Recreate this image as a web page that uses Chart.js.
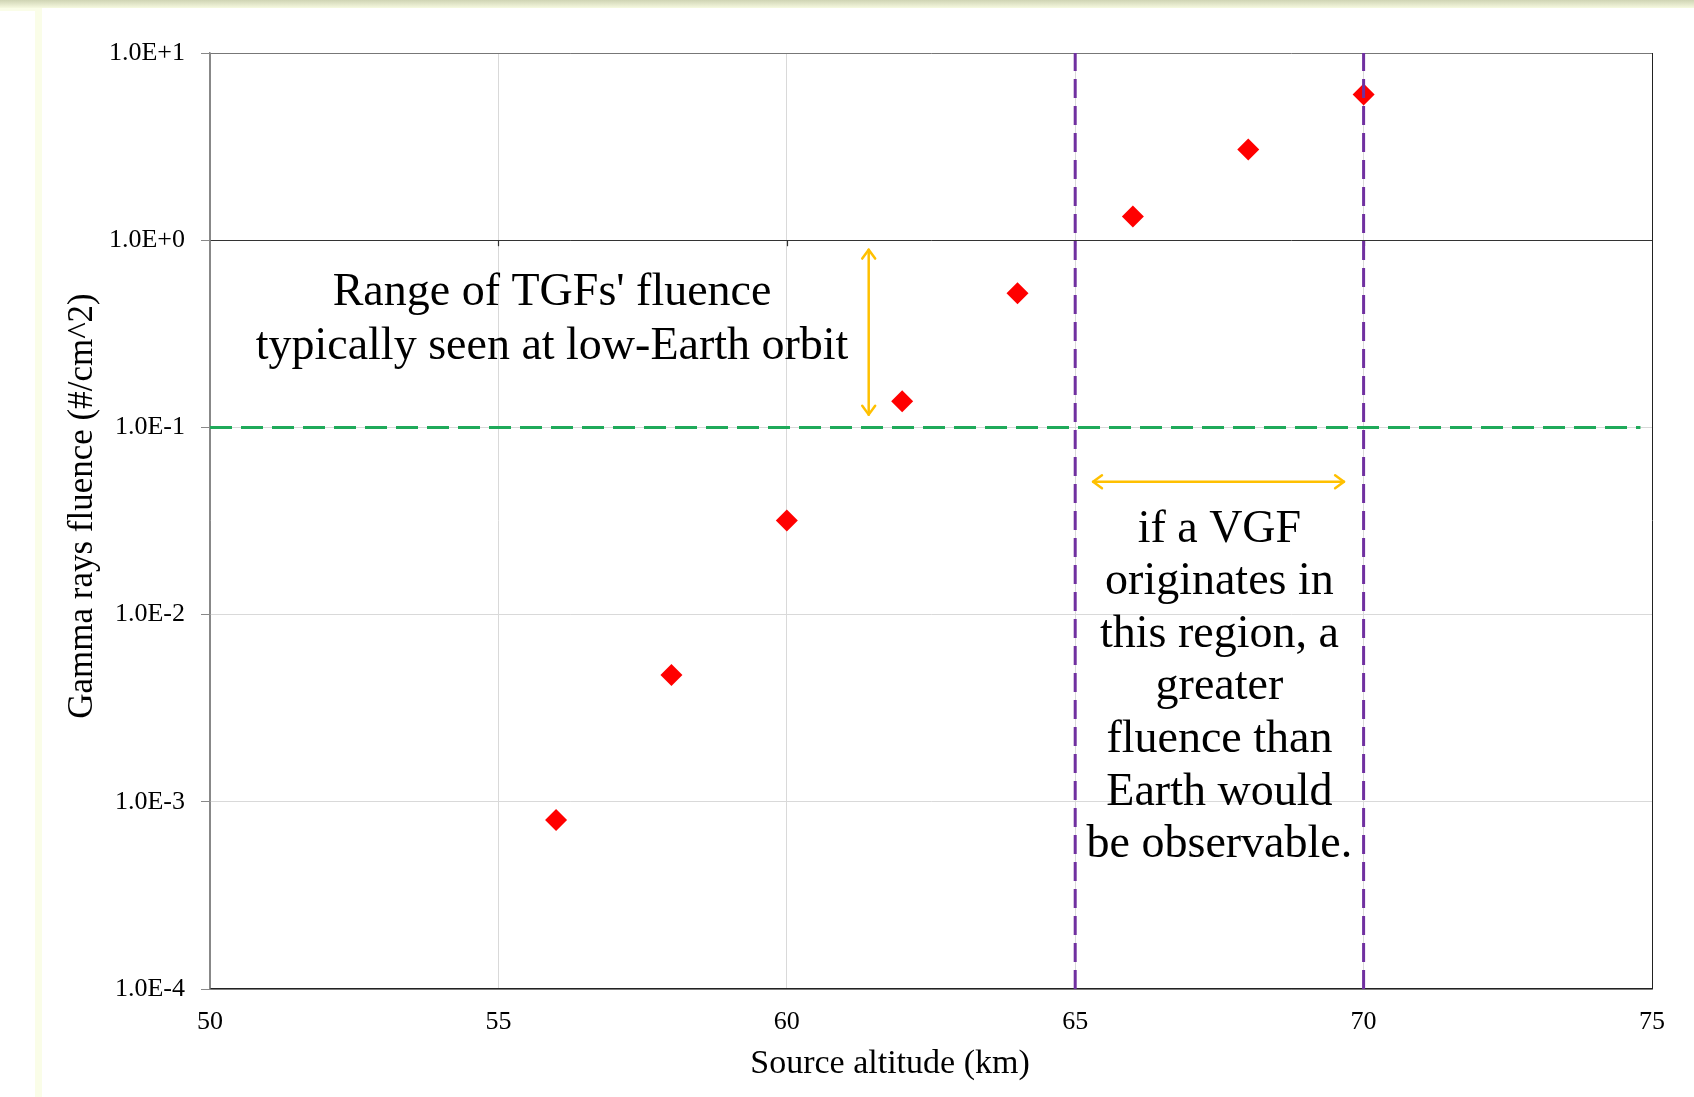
<!DOCTYPE html>
<html>
<head>
<meta charset="utf-8">
<title>Gamma rays fluence vs source altitude</title>
<script src="https://cdn.jsdelivr.net/npm/chart.js@4.4.1/dist/chart.umd.min.js"></script>
<style>
  html, body { margin: 0; padding: 0; background: #fff; }
  #wrap { width: 1694px; height: 1097px; }
</style>
</head>
<body>
<div id="wrap"><canvas id="fluenceChart" width="1694" height="1097"></canvas></div>
<script>
// --- values ---
const altitudes = [56, 58, 60, 62, 64, 66, 68, 70];
const fluence = [8.0e-4, 4.75e-3, 0.0318, 0.138, 0.52, 1.34, 3.05, 6.0];

const xTicks = [50, 55, 60, 65, 70, 75];
const yTicks = [1e-4, 1e-3, 1e-2, 1e-1, 1, 10];
const yTickLabels = ["1.0E-4", "1.0E-3", "1.0E-2", "1.0E-1", "1.0E+0", "1.0E+1"];

// typical LEO fluence level (green dashed)
const thresholdX = [50, 74.8];
const thresholdY = [0.1, 0.1];

// VGF region bounds (purple dashed)
const regionX = [65, 70];
const regionY = [1e-4, 10];

const xTitle = "Source altitude (km)";
const yTitle = "Gamma rays fluence (#/cm^2)";
const leftNote = ["Range of TGFs' fluence", "typically seen at low-Earth orbit"];
const rightNote = ["if a VGF", "originates in", "this region, a", "greater", "fluence than", "Earth would", "be observable."];

const SERIF = "'Liberation Serif', 'Times New Roman', serif";
const ORANGE = "#ffc000";

// --- page backdrop (slide border bits) ---
const pageBackdrop = {
  id: "pageBackdrop",
  beforeDraw(chart) {
    const { ctx, width, height } = chart;
    ctx.save();
    ctx.fillStyle = "#fff";
    ctx.fillRect(0, 0, width, height);
    const g = ctx.createLinearGradient(0, 0, 0, 8);
    g.addColorStop(0, "#cfd4b4");
    g.addColorStop(1, "#f6f9e0");
    ctx.fillStyle = g;
    ctx.fillRect(0, 0, width, 8);
    ctx.fillStyle = "#fafde8";
    ctx.fillRect(0, 8, 42, 3);
    ctx.fillRect(35, 8, 7, height - 8);
    ctx.restore();
  },
};

function drawArrow(ctx, x1, y1, x2, y2) {
  const head = 11, spread = Math.PI / 5;
  ctx.beginPath();
  ctx.moveTo(x1, y1);
  ctx.lineTo(x2, y2);
  ctx.stroke();
  [[x1, y1, x2, y2], [x2, y2, x1, y1]].forEach(([ax, ay, bx, by]) => {
    const a = Math.atan2(by - ay, bx - ax);
    ctx.beginPath();
    ctx.moveTo(ax + head * Math.cos(a + spread), ay + head * Math.sin(a + spread));
    ctx.lineTo(ax, ay);
    ctx.lineTo(ax + head * Math.cos(a - spread), ay + head * Math.sin(a - spread));
    ctx.stroke();
  });
}

// --- arrows, notes, axis titles and the axis-crossing ticks ---
const notes = {
  id: "notes",
  beforeDatasetsDraw(chart) {
    const { ctx, scales: { x, y } } = chart;
    const yOne = y.getPixelForValue(1);
    ctx.save();
    ctx.strokeStyle = "#333";
    ctx.lineWidth = 1.2;
    xTicks.slice(1, -1).forEach((v) => {
      const px = Math.round(x.getPixelForValue(v)) + 0.5;
      ctx.beginPath();
      ctx.moveTo(px, yOne);
      ctx.lineTo(px, yOne + 6);
      ctx.stroke();
    });
    ctx.restore();
  },
  afterDatasetsDraw(chart) {
    const { ctx, chartArea, scales: { x, y } } = chart;
    ctx.save();
    ctx.strokeStyle = ORANGE;
    ctx.lineWidth = 2.5;
    ctx.lineCap = "round";
    ctx.lineJoin = "round";
    // vertical range arrow
    const ax = x.getPixelForValue(61.42);
    drawArrow(ctx, ax, y.getPixelForValue(0.89), ax, y.getPixelForValue(0.117));
    // horizontal region arrow
    const ay = y.getPixelForValue(0.0512);
    drawArrow(ctx, x.getPixelForValue(65.31), ay, x.getPixelForValue(69.66), ay);

    ctx.fillStyle = "#000";
    ctx.font = "46px " + SERIF;
    ctx.textAlign = "center";
    ctx.textBaseline = "middle";
    const lx = x.getPixelForValue(55.93);
    const ly = y.getPixelForValue(0.52);
    leftNote.forEach((t, i) => ctx.fillText(t, lx, ly + i * 54));
    const rx = x.getPixelForValue(67.5);
    const ry = y.getPixelForValue(0.0285);
    rightNote.forEach((t, i) => ctx.fillText(t, rx, ry + i * 52.6));

    // axis titles (sit a little off-centre in the original)
    const midX = (chartArea.left + chartArea.right) / 2;
    const midY = (chartArea.top + chartArea.bottom) / 2;
    ctx.font = "34px " + SERIF;
    ctx.fillText(xTitle, midX - 41, 1064);
    ctx.translate(83, midY - 15);
    ctx.rotate(-Math.PI / 2);
    ctx.font = "35px " + SERIF;
    ctx.fillText(yTitle, 0, 0);
    ctx.restore();
  },
};

new Chart(document.getElementById("fluenceChart"), {
  type: "scatter",
  data: {
    datasets: [
      ...regionX.map((rx) => ({
        data: regionY.map((v) => ({ x: rx, y: v })),
        showLine: true,
        borderColor: "#7030a0",
        borderWidth: 3,
        borderDash: [19, 8],
        pointRadius: 0,
      })),
      {
        data: thresholdX.map((v, i) => ({ x: v, y: thresholdY[i] })),
        showLine: true,
        borderColor: "#1faa5a",
        borderWidth: 3,
        borderDash: [22, 9],
        pointRadius: 0,
      },
      {
        data: altitudes.map((v, i) => ({ x: v, y: fluence[i] })),
        pointStyle: "rectRot",
        pointRadius: 11,
        backgroundColor: "#ff0000",
        borderWidth: 0,
      },
    ],
  },
  options: {
    responsive: false,
    animation: false,
    events: [],
    layout: { padding: { top: 53, right: 42, left: 0, bottom: 0 } },
    plugins: { legend: { display: false }, tooltip: { enabled: false } },
    scales: {
      x: {
        type: "linear",
        min: 50,
        max: 75,
        afterBuildTicks: (s) => { s.ticks = xTicks.map((v) => ({ value: v })); },
        afterFit: (s) => { s.height = 108; },
        grid: {
          drawTicks: false,
          color: (c) => (c.tick.value === 75 ? "#222" : c.tick.value === 50 ? "#888" : "#d9d9d9"),
        },
        border: { color: "#222", width: 1.5 },
        ticks: { color: "#000", padding: 18, font: { family: SERIF, size: 26 } },
      },
      y: {
        type: "logarithmic",
        min: 1e-4,
        max: 10,
        afterBuildTicks: (s) => { s.ticks = yTicks.map((v) => ({ value: v })); },
        afterFit: (s) => { s.width = 210; },
        grid: {
          tickLength: 9,
          tickColor: "#888",
          color: (c) => (c.tick.value === 1 ? "#333" : c.tick.value === 10 ? "#777" : "#d9d9d9"),
        },
        border: { color: "#888", width: 1.5 },
        ticks: {
          color: "#000",
          padding: 16,
          font: { family: SERIF, size: 26 },
          callback: (v) => yTickLabels[yTicks.indexOf(v)],
        },
      },
    },
  },
  plugins: [pageBackdrop, notes],
});
</script>
</body>
</html>
